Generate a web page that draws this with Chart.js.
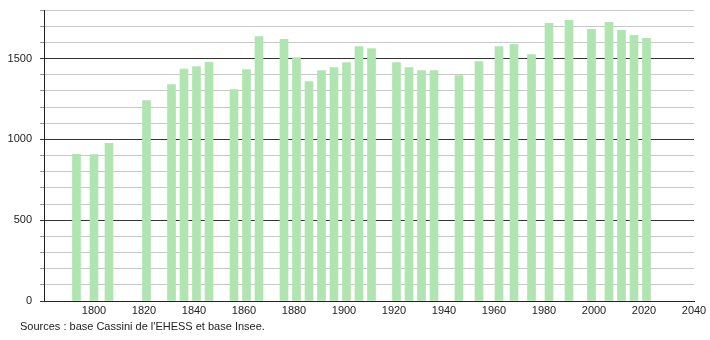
<!DOCTYPE html>
<html>
<head>
<meta charset="utf-8">
<script src="https://cdn.jsdelivr.net/npm/chart.js@4"></script>
<style>
  html, body { margin: 0; padding: 0; background: #fff; }
  #wrap { position: relative; width: 710px; height: 340px; }
  #src { position: absolute; left: 20px; top: 320px; font: 11px "Liberation Sans", Arial, sans-serif; color: #222; }
</style>
</head>
<body>
<div id="wrap">
  <canvas id="popChart" width="710" height="340"></canvas>
  <div id="src">Sources : base Cassini de l'EHESS et base Insee.</div>
</div>
<script>
  // ---- data ----
  const years = [1793, 1800, 1806, 1821, 1831, 1836, 1841, 1846, 1856, 1861, 1866, 1876, 1881, 1886,
                 1891, 1896, 1901, 1906, 1911, 1921, 1926, 1931, 1936, 1946, 1954, 1962, 1968, 1975,
                 1982, 1990, 1999, 2006, 2011, 2016, 2021];
  const population = [908, 905, 975, 1240, 1338, 1435, 1450, 1476, 1307, 1431, 1635, 1618, 1506, 1357,
                      1425, 1444, 1475, 1574, 1562, 1475, 1444, 1425, 1425, 1394, 1481, 1574, 1587, 1525,
                      1718, 1736, 1680, 1724, 1674, 1643, 1624];
  const xTicks = [1800, 1820, 1840, 1860, 1880, 1900, 1920, 1940, 1960, 1980, 2000, 2020, 2040];

  const font = { family: 'Liberation Sans', size: 11 };

  new Chart(document.getElementById('popChart'), {
    type: 'bar',
    data: {
      datasets: [{
        data: years.map((y, i) => ({ x: y, y: population[i] })),
        backgroundColor: '#b0e4b0',
        barThickness: 8
      }]
    },
    options: {
      responsive: false,
      animation: false,
      layout: { padding: { top: 10, right: 16, left: 0, bottom: 19 } },
      plugins: { legend: { display: false }, tooltip: { enabled: false } },
      scales: {
        x: {
          type: 'linear',
          offset: false,
          min: 1780, max: 2040,
          afterBuildTicks: s => { s.ticks = xTicks.map(v => ({ value: v })); },
          afterFit: s => { s.height = 20; },
          ticks: { color: '#222', font, padding: 3, maxRotation: 0, autoSkip: false,
                   callback: v => String(v) },
          grid: { display: false, drawTicks: false, offset: false },
          border: { color: '#222', width: 1 }
        },
        y: {
          min: 0, max: 1800,
          afterFit: s => { s.width = 44; s.paddingTop = 0; s.paddingBottom = 0; },
          ticks: {
            stepSize: 100, autoSkip: false, color: '#222', font, padding: 8,
            callback: v => (v % 500 === 0 ? String(v) : '')
          },
          grid: {
            color: c => (c.tick.value % 500 === 0 ? '#333' : '#c8c8c8'),
            tickColor: c => (c.tick.value % 500 === 0 ? '#333' : '#999'),
            tickLength: 4
          },
          border: { color: '#222', width: 1 }
        }
      }
    }
  });
</script>
</body>
</html>
